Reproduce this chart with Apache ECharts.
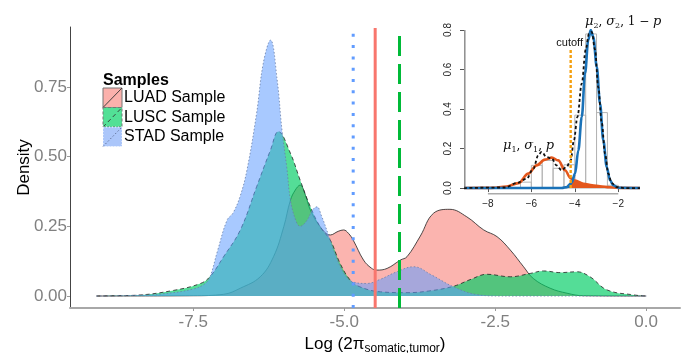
<!DOCTYPE html>
<html>
<head>
<meta charset="utf-8">
<script src="https://cdn.jsdelivr.net/npm/echarts@6/dist/echarts.min.js"></script>
<style>
html,body{margin:0;padding:0;background:#fff;}
#main{width:681px;height:353px;}
</style>
</head>
<body>
<div id="main"></div>
<script>
// main plot: density curves
var luadX = [-9.1,-7.5,-7.0,-6.72,-6.39,-6.17,-6.0,-5.89,-5.81,-5.73,-5.64,-5.56,-5.4,-5.23,-5.1,-5.01,-4.93,-4.85,-4.68,-4.55,-4.46,-4.29,-4.07,-3.96,-3.74,-3.52,-3.25,-2.97,-2.69,-2.47,-2.25,-2.03,-1.87,-1.59,-1.31,-1.04,0]
var luadY = [0,0.001,0.006,0.028,0.069,0.141,0.249,0.344,0.38,0.398,0.36,0.308,0.249,0.219,0.232,0.237,0.225,0.2,0.129,0.1,0.093,0.099,0.129,0.141,0.215,0.297,0.311,0.284,0.237,0.213,0.165,0.105,0.063,0.028,0.01,0.001,0]
var luscX = [-9.1,-8.8,-8.43,-7.83,-7.38,-7.22,-7.0,-6.72,-6.45,-6.22,-6.09,-5.89,-5.73,-5.56,-5.4,-5.23,-5.07,-4.9,-4.74,-4.4,-3.96,-3.6,-3.19,-2.9,-2.64,-2.25,-1.92,-1.7,-1.42,-1.15,-0.93,-0.65,-0.21,0]
var luscY = [0,0.001,0.003,0.02,0.045,0.07,0.14,0.237,0.392,0.524,0.59,0.512,0.416,0.32,0.249,0.2,0.118,0.057,0.033,0.015,0.012,0.018,0.035,0.06,0.078,0.069,0.081,0.09,0.084,0.087,0.069,0.022,0.004,0]
var stadX = [-9.1,-8.5,-8.0,-7.5,-7.3,-7.22,-7.1,-6.94,-6.84,-6.72,-6.61,-6.45,-6.34,-6.22,-6.11,-6.03,-5.95,-5.89,-5.8,-5.73,-5.62,-5.52,-5.45,-5.38,-5.26,-5.15,-5.0,-4.85,-4.63,-4.4,-4.15,-3.85,-3.55,-3.19,-2.8,-2.4,0]
var stadY = [0,0.002,0.008,0.025,0.045,0.07,0.16,0.272,0.298,0.36,0.452,0.656,0.835,0.918,0.775,0.595,0.46,0.344,0.27,0.25,0.27,0.31,0.32,0.29,0.219,0.15,0.08,0.05,0.045,0.06,0.085,0.105,0.075,0.033,0.005,0,0]

var sampleNames = ['LUAD Sample','LUSC Sample','STAD Sample']
var cutLinesX = [-4.851, -4.487, -4.084]   // STAD, LUAD, LUSC
var cutLinesTop = [0.943, 0.961, 0.936]

var mainXTicks = [-7.5,-5.0,-2.5,0.0]
var mainYTicks = [0,0.25,0.5,0.75]

// inset: mixture fit
var histEdges = [-6.5,-6,-5.5,-5,-4.5,-4,-3.5,-3,-2.5,-2]
var histHeights = [0.03,0.115,0.14,0.1,0.118,0.369,0.78,0.382,0.014]
var comp1X = [-9.1,-7.85,-7.14,-6.6,-6.14,-5.76,-5.37,-5.06,-4.76,-4.45,-4.19,-3.99,-3.6,-3.2,-2.84,-2.4,-2.0,-1.0]
var comp1Y = [0,0.001,0.008,0.025,0.073,0.115,0.144,0.154,0.14,0.09,0.05,0.038,0.022,0.014,0.009,0.004,0.001,0]
var comp2X = [-9.1,-4.6,-4.37,-4.19,-4.14,-3.99,-3.84,-3.68,-3.53,-3.38,-3.27,-3.15,-2.99,-2.84,-2.69,-2.53,-2.38,-2.23,-2.0,-1.0]
var comp2Y = [0,0,0.005,0.022,0.03,0.073,0.19,0.36,0.58,0.75,0.80,0.766,0.614,0.428,0.242,0.107,0.039,0.014,0.002,0]
var kdeX = [-9.1,-7.2,-6.68,-6.22,-5.91,-5.68,-5.53,-5.3,-5.06,-4.84,-4.61,-4.38,-4.19,-4.04,-3.88,-3.68,-3.5,-3.35,-3.22,-3.07,-2.92,-2.76,-2.61,-2.46,-2.3,-2.07,-1.7,-1.0]
var kdeY = [0,0.003,0.025,0.047,0.098,0.166,0.183,0.157,0.149,0.115,0.09,0.107,0.14,0.242,0.36,0.53,0.7,0.78,0.79,0.7,0.51,0.33,0.174,0.073,0.025,0.005,0,0]
var cutoffX = -4.19
var cutoffTop = 0.7
var insetXTicks = [-8,-6,-4,-2]
var insetYTicks = [0,0.2,0.4,0.6,0.8]

function zip(xs, ys) {
    return xs.map(function (x, i) { return [x, ys[i]] })
}

var FONT = 'Liberation Sans, Arial, sans-serif'
var fills = ['rgba(248,118,109,0.55)', 'rgba(0,205,100,0.67)', 'rgba(97,156,255,0.55)']
var legendFills = ['#fbb1ac', '#52e096', '#abc6fa']
var edgeTypes = ['solid', [4, 3], [1.5, 2]]
var edgeColors = ['#222', '#222', '#6a7fa8']

var chart = echarts.init(document.getElementById('main'))

var series = []
;[zip(luadX, luadY), zip(luscX, luscY), zip(stadX, stadY)].forEach(function (d, i) {
    series.push({
        name: sampleNames[i],
        type: 'line',
        xAxisIndex: 0, yAxisIndex: 0,
        data: d,
        smooth: 0.4,
        symbol: 'none',
        lineStyle: { color: edgeColors[i], width: 0.8, type: edgeTypes[i] },
        areaStyle: { color: fills[i], opacity: 1 },
        z: 2 + i
    })
})

var vColors = ['#619CFF', '#F8766D', '#00BA38']
var vTypes = [[3, 8.3], 'solid', [20, 8]]
cutLinesX.forEach(function (x, i) {
    series.push({
        type: 'line',
        xAxisIndex: 0, yAxisIndex: 0,
        data: [[x, -0.043], [x, cutLinesTop[i]]],
        symbol: 'none',
        lineStyle: { color: vColors[i], width: 3, type: vTypes[i] },
        z: 10
    })
})

// inset series
series.push({
    type: 'custom',
    xAxisIndex: 1, yAxisIndex: 1,
    data: histHeights.map(function (h, i) { return [histEdges[i], histEdges[i + 1], h] }),
    encode: { x: [0, 1], y: 2 },
    renderItem: function (params, api) {
        var p0 = api.coord([api.value(0), api.value(2)])
        var p1 = api.coord([api.value(1), 0])
        return {
            type: 'rect',
            shape: { x: p0[0], y: p0[1], width: p1[0] - p0[0], height: p1[1] - p0[1] },
            style: { fill: 'none', stroke: '#b4b4b4', lineWidth: 1 }
        }
    },
    z: 20
})
series.push({
    type: 'line', xAxisIndex: 1, yAxisIndex: 1,
    data: zip(comp2X, comp2Y).filter(function (p) { return p[0] <= cutoffX && p[0] > -4.7 }),
    smooth: 0.35, smoothMonotone: 'x', symbol: 'none',
    lineStyle: { width: 0 }, areaStyle: { color: '#1a72b8', opacity: 1 }, z: 21
})
series.push({
    type: 'line', xAxisIndex: 1, yAxisIndex: 1,
    data: zip(comp1X, comp1Y).filter(function (p) { return p[0] >= cutoffX && p[0] <= -2 }),
    smooth: 0.35, smoothMonotone: 'x', symbol: 'none',
    lineStyle: { width: 0 }, areaStyle: { color: '#e4571c', opacity: 1 }, z: 21
})
series.push({
    type: 'line', xAxisIndex: 1, yAxisIndex: 1,
    data: zip(comp1X, comp1Y),
    smooth: 0.35, smoothMonotone: 'x', symbol: 'none',
    lineStyle: { color: '#e4571c', width: 2.6 }, z: 22
})
series.push({
    type: 'line', xAxisIndex: 1, yAxisIndex: 1,
    data: zip(comp2X, comp2Y),
    smooth: 0.35, smoothMonotone: 'x', symbol: 'none',
    lineStyle: { color: '#1a72b8', width: 2.6 }, z: 23
})
series.push({
    type: 'line', xAxisIndex: 1, yAxisIndex: 1,
    data: zip(kdeX, kdeY),
    smooth: 0.35, smoothMonotone: 'x', symbol: 'none',
    lineStyle: { color: '#111', width: 1.8, type: [3, 2.5] }, z: 24
})
series.push({
    type: 'line', xAxisIndex: 1, yAxisIndex: 1,
    data: [[cutoffX, 0], [cutoffX, cutoffTop]],
    symbol: 'none',
    lineStyle: { color: '#f5a00f', width: 2.4, type: [3, 2] }, z: 25
})
// base-R style axis line under the ticks only
series.push({
    type: 'line', xAxisIndex: 1, yAxisIndex: 1,
    data: [[insetXTicks[0], -0.03], [insetXTicks[insetXTicks.length - 1], -0.03]],
    symbol: 'none', lineStyle: { color: '#555', width: 1 }, z: 25
})
series.push({
    type: 'line', xAxisIndex: 1, yAxisIndex: 1,
    data: [[-9.06, insetYTicks[0]], [-9.06, insetYTicks[insetYTicks.length - 1]]],
    symbol: 'none', lineStyle: { color: '#555', width: 1 }, z: 25
})

// legend drawn by hand, ggplot style
var legendItems = [{
    type: 'text', left: 103, top: 73,
    style: { text: 'Samples', font: 'bold 16px ' + FONT, fill: '#000' }
}]
sampleNames.forEach(function (name, i) {
    var y = 88 + i * 19.5
    legendItems.push({
        type: 'rect', shape: { x: 103, y: y, width: 19, height: 19.5 },
        style: { fill: legendFills[i], stroke: i === 2 ? '#fff' : '#777', lineWidth: 1, lineDash: i === 0 ? null : (i === 1 ? [3, 2] : [1, 2]) }
    })
    legendItems.push({
        type: 'line', shape: { x1: 103, y1: y + 19.5, x2: 122, y2: y },
        style: { stroke: i === 2 ? '#5a6a90' : '#333', lineWidth: 0.9, lineDash: i === 0 ? null : (i === 1 ? [4, 3] : [1.5, 2]) }
    })
    legendItems.push({
        type: 'text', x: 124, y: y + 10,
        style: { text: name, font: '16px ' + FONT, fill: '#000', verticalAlign: 'middle' }
    })
})
legendItems.push({
    type: 'text', x: 583, y: 43,
    style: { text: 'cutoff', font: '11px ' + FONT, fill: '#111', align: 'right', verticalAlign: 'middle' }
})
var mathRich = {
    i: { font: 'italic 13px DejaVu Serif, serif', fill: '#111' },
    n: { font: '12px DejaVu Serif, serif', fill: '#111' },
    s: { font: '8px DejaVu Serif, serif', fill: '#111', padding: [7, 0, 0, 0] }
}
legendItems.push({
    type: 'text', x: 585, y: 22,
    style: { text: '{i|μ}{s|2}{n|, }{i|σ}{s|2}{n|, 1 − }{i|p}', verticalAlign: 'middle', rich: mathRich }
})
legendItems.push({
    type: 'text', x: 503, y: 146,
    style: { text: '{i|μ}{s|1}{n|, }{i|σ}{s|1}{n|, }{i|p}', verticalAlign: 'middle', rich: mathRich }
})

chart.setOption({
    animation: false,
    backgroundColor: '#fff',
    textStyle: { fontFamily: FONT },
    grid: [
        { left: 70, top: 27, width: 610, height: 281, outerBoundsMode: 'none', containLabel: false },
        { left: 464, top: 30, width: 176, height: 164, outerBoundsMode: 'none', containLabel: false }
    ],
    xAxis: [{
        type: 'value', gridIndex: 0,
        min: -9.54, max: 0.56,
        name: 'Log (2π{sub|somatic,tumor})',
        nameLocation: 'middle', nameGap: 21,
        nameTextStyle: {
            fontSize: 17, color: '#000', fontFamily: FONT,
            rich: { sub: { fontSize: 12, color: '#000', fontFamily: FONT, padding: [9, 0, 0, 0] } }
        },
        axisLine: { show: true, onZero: false, lineStyle: { color: '#a8a8a8', width: 2 } },
        axisTick: { show: true, customValues: mainXTicks, length: 3, lineStyle: { color: '#999' } },
        axisLabel: {
            customValues: mainXTicks, fontSize: 17, color: '#808080', margin: 6,
            formatter: function (v) { return v.toFixed(1) }
        },
        splitLine: { show: false }
    }, {
        type: 'value', gridIndex: 1,
        min: -9.1, max: -1.0,
        axisLine: { show: false },
        axisTick: { show: true, customValues: insetXTicks, length: 4, lineStyle: { color: '#555' } },
        axisLabel: { customValues: insetXTicks, fontSize: 10, color: '#222', margin: 5,
            formatter: function (v) { return String(v).replace('-', '−') } },
        splitLine: { show: false }
    }],
    yAxis: [{
        type: 'value', gridIndex: 0,
        min: -0.043, max: 0.965,
        name: 'Density', nameLocation: 'middle', nameGap: 37, nameRotate: 90,
        nameMoveOverlap: false,
        nameTextStyle: { fontSize: 17, color: '#000' },
        axisLine: { show: true, onZero: false, lineStyle: { color: '#444', width: 1 } },
        axisTick: { show: true, customValues: mainYTicks, length: 3, lineStyle: { color: '#999' } },
        axisLabel: {
            customValues: mainYTicks, fontSize: 17, color: '#808080', margin: 3,
            formatter: function (v) { return v.toFixed(2) }
        },
        splitLine: { show: false }
    }, {
        type: 'value', gridIndex: 1,
        min: -0.03, max: 0.8,
        axisLine: { show: false },
        axisTick: { show: true, customValues: insetYTicks, length: 4, lineStyle: { color: '#555' } },
        axisLabel: { customValues: insetYTicks, fontSize: 10, color: '#222', margin: 11, rotate: 90,
            formatter: function (v) { return v.toFixed(1) } },
        splitLine: { show: false }
    }],
    graphic: legendItems,
    series: series
})
</script>
</body>
</html>
